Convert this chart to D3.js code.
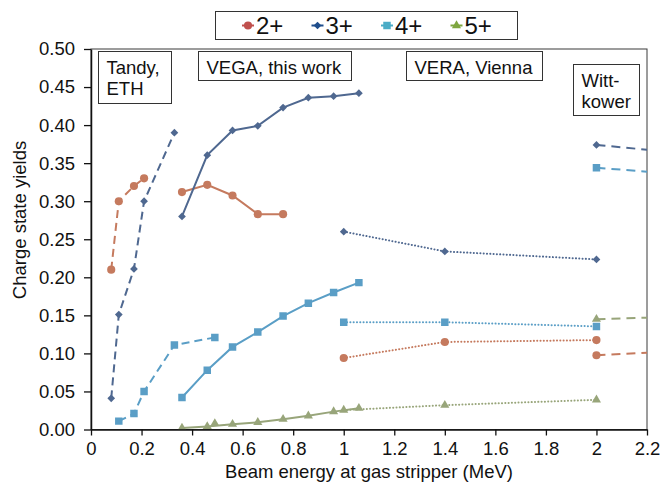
<!DOCTYPE html>
<html>
<head>
<meta charset="utf-8">
<script src="https://cdn.jsdelivr.net/npm/d3@7"></script>
<style>
  body { margin: 0; background: #fff; }
  text { font-family: "Liberation Sans", Arial, sans-serif; fill: #111; }
</style>
</head>
<body>
<div id="wrapper"></div>
<script>
// charge states
const states = ["2+", "3+", "4+", "5+"];

// Tandy, ETH (dashed)
const tandyEnergy = [0.08, 0.11, 0.17, 0.21, 0.33, 0.49];
const tandy2 = [0.21, 0.300, 0.320, 0.330, null, null];
const tandy3 = [0.041, 0.151, 0.211, 0.300, 0.390, null];
const tandy4 = [null, 0.011, 0.021, 0.050, 0.111, 0.121];
const tandy5 = [null, null, null, null, null, 0.008];

// VEGA, this work (solid)
const vegaEnergy = [0.36, 0.46, 0.56, 0.66, 0.76, 0.86, 0.96, 1.06];
const vega2 = [0.312, 0.3215, 0.3075, 0.283, 0.283, null, null, null];
const vega3 = [0.280, 0.3605, 0.393, 0.399, 0.423, 0.436, 0.438, 0.442];
const vega4 = [0.042, 0.078, 0.1085, 0.128, 0.149, 0.166, 0.180, 0.193];
const vega5 = [0.002, 0.004, 0.007, 0.0095, 0.0135, 0.018, 0.0235, 0.028];

// VERA, Vienna (dotted)
const veraEnergy = [1.0, 1.4, 2.0];
const vera2 = [0.094, 0.115, 0.1175];
const vera3 = [0.260, 0.234, 0.2235];
const vera4 = [0.141, 0.141, 0.1355];
const vera5 = [0.0255, 0.032, 0.039];

// Wittkower (dashed, runs off the right edge)
const wittEnergy = [2.0, 2.5];
const witt2 = [0.0975, 0.106];
const witt3 = [0.374, 0.358];
const witt4 = [0.344, 0.331];
const witt5 = [0.145, 0.150];

const xTicks = [0, 0.2, 0.4, 0.6, 0.8, 1, 1.2, 1.4, 1.6, 1.8, 2, 2.2];
const yTicks = [0, 0.05, 0.1, 0.15, 0.2, 0.25, 0.3, 0.35, 0.4, 0.45, 0.5];

const lineColors = ["#c57a5e", "#4f6890", "#5a9ec6", "#98a57a"];
const legendColors = ["#c0504d", "#1f4e8c", "#4bacc6", "#7ea63f"];
const shapes = ["circle", "diamond", "square", "triangle"];

const groups = [
    {x: tandyEnergy, ys: [tandy2, tandy3, tandy4, tandy5], dash: "8,5", cap: "butt"},
    {x: vegaEnergy, ys: [vega2, vega3, vega4, vega5], dash: null, cap: "butt"},
    {x: veraEnergy, ys: [vera2, vera3, vera4, vera5], dash: "0.1,3.2", cap: "round"},
    {x: wittEnergy, ys: [witt2, witt3, witt4, witt5], dash: "9,6", cap: "butt"}
];

var dimension = {
    width: 660,
    height: 486,
    margin: {top: 49, left: 91, bottom: 56.5, right: 13}
};
dimension.boundedWidth = dimension.width - dimension.margin.left - dimension.margin.right;
dimension.boundedHeight = dimension.height - dimension.margin.top - dimension.margin.bottom;

const svg = d3.select("#wrapper").append("svg")
    .attr("width", dimension.width)
    .attr("height", dimension.height);

const bounded = svg.append("g")
    .attr("transform", `translate(${dimension.margin.left},${dimension.margin.top})`);

const xScaler = d3.scaleLinear().domain([0, 2.2]).range([0, dimension.boundedWidth]);
const yScaler = d3.scaleLinear().domain([0, 0.5]).range([dimension.boundedHeight, 0]);

bounded.append("clipPath").attr("id", "plotclip")
    .append("rect")
    .attr("x", 0).attr("y", 0)
    .attr("width", dimension.boundedWidth).attr("height", dimension.boundedHeight);

// frame
bounded.append("rect")
    .attr("width", dimension.boundedWidth).attr("height", dimension.boundedHeight)
    .attr("fill", "none").attr("stroke", "#3a3a3a").attr("stroke-width", 1);

// markers
function markerPath(shape) {
    if (shape === "circle") return d3.symbol(d3.symbolCircle, 52)();
    if (shape === "square") return d3.symbol(d3.symbolSquare, 56)();
    if (shape === "triangle") return d3.symbol(d3.symbolTriangle, 36)();
    return d3.symbol(d3.symbolSquare, 30)();
}

const plot = bounded.append("g").attr("clip-path", "url(#plotclip)");

const lineGenerator = d3.line()
    .defined(d => d.y != null)
    .x(d => xScaler(d.x))
    .y(d => yScaler(d.y));

groups.forEach(g => {
    g.ys.forEach((ys, k) => {
        const pts = g.x.map((x, i) => ({x: x, y: ys[i]})).filter(d => d.y != null);
        plot.append("path")
            .datum(pts)
            .attr("d", lineGenerator)
            .attr("fill", "none")
            .attr("stroke", lineColors[k])
            .attr("stroke-width", 2)
            .attr("stroke-linecap", g.cap)
            .attr("stroke-dasharray", g.dash);
        plot.selectAll(null)
            .data(pts)
            .join("path")
            .attr("d", markerPath(shapes[k]))
            .attr("transform", d => `translate(${xScaler(d.x)},${yScaler(d.y)})` +
                (shapes[k] === "diamond" ? " rotate(45)" : ""))
            .attr("fill", lineColors[k]);
    });
});

// axes
const xAxis = d3.axisBottom(xScaler).tickValues(xTicks).tickSize(6).tickSizeOuter(0)
    .tickFormat(d => d3.format("~g")(d));
const yAxis = d3.axisLeft(yScaler).tickValues(yTicks).tickSize(7).tickSizeOuter(0)
    .tickFormat(d3.format(".2f"));

const gx = bounded.append("g")
    .attr("transform", `translate(0,${dimension.boundedHeight})`)
    .call(xAxis);
const gy = bounded.append("g").call(yAxis);

[gx, gy].forEach(g => {
    g.select(".domain").attr("stroke", "#111").attr("stroke-width", 1.5);
    g.selectAll(".tick line").attr("stroke", "#111").attr("stroke-width", 1.3);
    g.selectAll(".tick text").attr("font-size", 18.5).attr("fill", "#111")
        .style("font-family", "Liberation Sans, Arial, sans-serif");
});
gx.selectAll(".tick text").attr("dy", "0.95em").attr("y", 8);
gy.selectAll(".tick text").attr("x", -16);

// axis titles
svg.append("text")
    .attr("x", dimension.margin.left + dimension.boundedWidth / 2)
    .attr("y", 478)
    .attr("text-anchor", "middle")
    .attr("font-size", 18.5)
    .text("Beam energy at gas stripper (MeV)");

svg.append("text")
    .attr("transform", "translate(26,220) rotate(-90)")
    .attr("text-anchor", "middle")
    .attr("font-size", 18.5)
    .text("Charge state yields");

// annotation boxes
const notes = [
    {lines: ["Tandy,", "ETH"], x: 98.5, y: 51.5, w: 73, h: 52},
    {lines: ["VEGA, this work"], x: 198.5, y: 51.5, w: 153, h: 29},
    {lines: ["VERA, Vienna"], x: 406.5, y: 51.5, w: 136, h: 29},
    {lines: ["Witt-", "kower"], x: 573.5, y: 64.5, w: 66, h: 51}
];
notes.forEach(n => {
    svg.append("rect")
        .attr("x", n.x).attr("y", n.y).attr("width", n.w).attr("height", n.h)
        .attr("fill", "#fff").attr("stroke", "#333").attr("stroke-width", 1);
    n.lines.forEach((t, i) => {
        svg.append("text")
            .attr("x", n.x + 8).attr("y", n.y + 22 + i * 21)
            .attr("font-size", 18.5)
            .text(t);
    });
});

// legend
const legend = svg.append("g");
legend.append("rect")
    .attr("x", 215.5).attr("y", 11.5).attr("width", 302).attr("height", 28)
    .attr("fill", "#fff").attr("stroke", "#333").attr("stroke-width", 1);
states.forEach((s, k) => {
    const lx = 242 + k * 69.5;
    legend.append("line")
        .attr("x1", lx).attr("x2", lx + 12).attr("y1", 25.5).attr("y2", 25.5)
        .attr("stroke", legendColors[k]).attr("stroke-width", 2);
    legend.append("path")
        .attr("d", markerPath(shapes[k]))
        .attr("transform", `translate(${lx + 6},25.5)` + (shapes[k] === "diamond" ? " rotate(45)" : ""))
        .attr("fill", legendColors[k]);
    legend.append("text")
        .attr("x", lx + 14).attr("y", 33.5)
        .attr("font-size", 24)
        .text(s);
});
</script>
</body>
</html>
